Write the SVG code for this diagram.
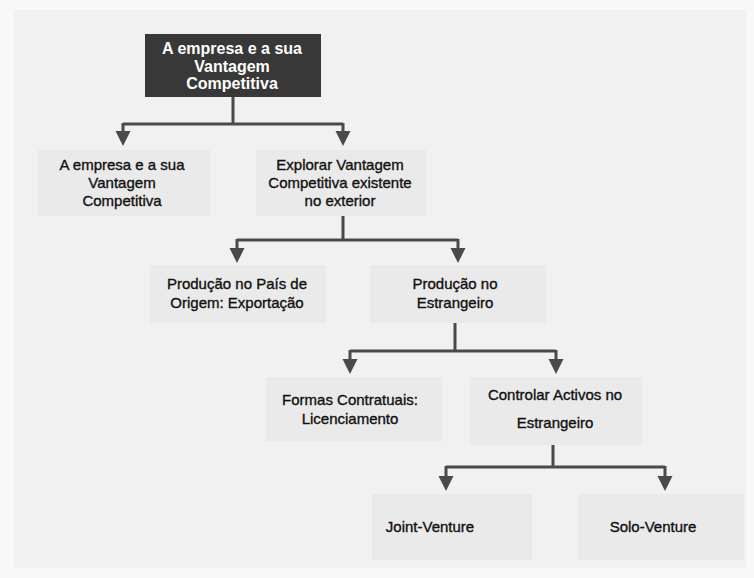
<svg xmlns="http://www.w3.org/2000/svg" width="754" height="578" viewBox="0 0 754 578">
  <defs>
    <!-- solid down-pointing arrowhead; +x follows the line direction -->
    <marker id="arrow" viewBox="0 0 10 10" refX="2" refY="5" markerWidth="15" markerHeight="17" markerUnits="userSpaceOnUse" orient="auto">
      <path d="M0,0 L10,5 L0,10 Z" fill="#4a4a4a"/>
    </marker>
  </defs>
  <style>
    .panel { fill: #f1f1f1; }
    .box { fill: #eaeaea; }
    .head { fill: #383838; }
    .lbl { font-family: "Liberation Sans", Arial, sans-serif; font-size: 15px; fill: #111111; stroke: #111111; stroke-width: 0.35; text-anchor: middle; }
    .hlbl { font-family: "Liberation Sans", Arial, sans-serif; font-size: 16px; font-weight: bold; fill: #ffffff; text-anchor: middle; }
    .wire { fill: none; stroke: #4a4a4a; stroke-width: 3; }
  </style>

  <!-- page background -->
  <rect x="0" y="0" width="754" height="578" fill="#f8f8f8"/>
  <rect class="panel" x="14" y="10" width="732" height="558"/>

  <!-- root node -->
  <g id="root">
    <rect class="head" x="145" y="34" width="176" height="63"/>
    <text class="hlbl" x="232" y="54">A empresa e a sua</text>
    <text class="hlbl" x="232" y="72">Vantagem</text>
    <text class="hlbl" x="232" y="89">Competitiva</text>
  </g>

  <!-- level 2 -->
  <g id="n-empresa">
    <rect class="box" x="38" y="150" width="172" height="66"/>
    <text class="lbl" x="122" y="170">A empresa e a sua</text>
    <text class="lbl" x="122" y="188">Vantagem</text>
    <text class="lbl" x="122" y="206">Competitiva</text>
  </g>
  <g id="n-explorar">
    <rect class="box" x="256" y="150" width="170" height="66"/>
    <text class="lbl" x="340" y="170">Explorar Vantagem</text>
    <text class="lbl" x="340" y="188">Competitiva existente</text>
    <text class="lbl" x="340" y="206">no exterior</text>
  </g>

  <!-- level 3 -->
  <g id="n-exportacao">
    <rect class="box" x="150" y="265" width="176" height="58"/>
    <text class="lbl" x="237" y="289">Produção no País de</text>
    <text class="lbl" x="237" y="308">Origem:  Exportação</text>
  </g>
  <g id="n-estrangeiro">
    <rect class="box" x="370" y="265" width="176" height="58"/>
    <text class="lbl" x="455" y="289">Produção no</text>
    <text class="lbl" x="455" y="308">Estrangeiro</text>
  </g>

  <!-- level 4 -->
  <g id="n-contratuais">
    <rect class="box" x="266" y="377" width="176" height="64"/>
    <text class="lbl" x="350" y="405">Formas Contratuais:</text>
    <text class="lbl" x="350" y="424">Licenciamento</text>
  </g>
  <g id="n-controlar">
    <rect class="box" x="470" y="377" width="172" height="68"/>
    <text class="lbl" x="555" y="400">Controlar Activos no</text>
    <text class="lbl" x="555" y="428">Estrangeiro</text>
  </g>

  <!-- level 5 -->
  <g id="n-joint">
    <rect class="box" x="372" y="494" width="160" height="66"/>
    <text class="lbl" x="430" y="532">Joint-Venture</text>
  </g>
  <g id="n-solo">
    <rect class="box" x="578" y="494" width="166" height="66"/>
    <text class="lbl" x="653" y="532">Solo-Venture</text>
  </g>

  <!-- connectors: trunk, crossbar, and two arrowed drops per fork -->
  <g id="connectors">
    <path class="wire" d="M233,97 V124"/>
    <path class="wire" d="M123,124 H343"/>
    <path class="wire" d="M123,123 V134" marker-end="url(#arrow)"/>
    <path class="wire" d="M343,123 V134" marker-end="url(#arrow)"/>

    <path class="wire" d="M343,216 V240"/>
    <path class="wire" d="M237,240 H458"/>
    <path class="wire" d="M237,239 V251" marker-end="url(#arrow)"/>
    <path class="wire" d="M458,239 V251" marker-end="url(#arrow)"/>

    <path class="wire" d="M455,323 V351"/>
    <path class="wire" d="M350,351 H556"/>
    <path class="wire" d="M350,350 V362" marker-end="url(#arrow)"/>
    <path class="wire" d="M556,350 V362" marker-end="url(#arrow)"/>

    <path class="wire" d="M553,445 V467"/>
    <path class="wire" d="M446,467 H665"/>
    <path class="wire" d="M446,466 V479" marker-end="url(#arrow)"/>
    <path class="wire" d="M665,466 V479" marker-end="url(#arrow)"/>
  </g>
</svg>
